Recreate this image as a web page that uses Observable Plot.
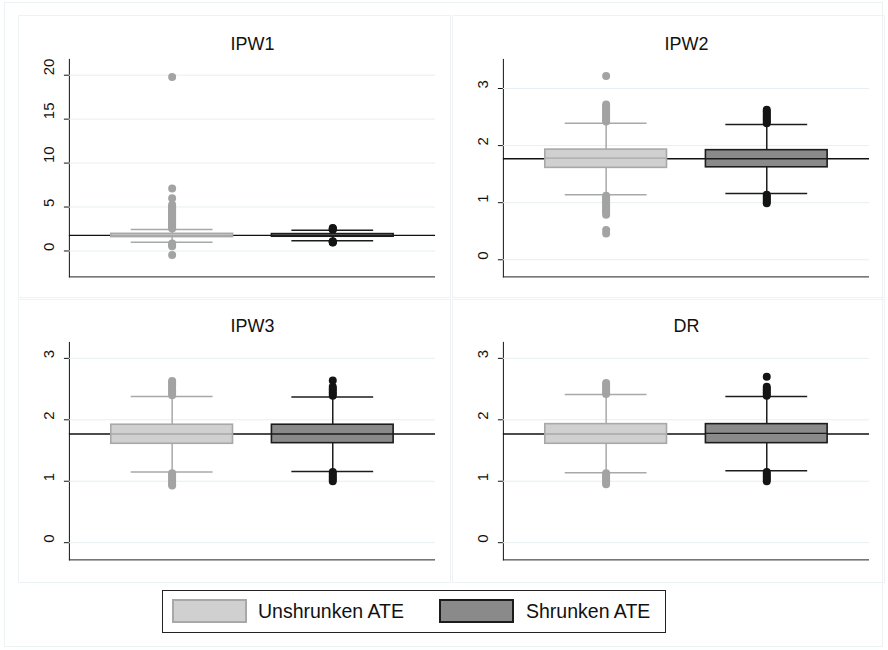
<!DOCTYPE html>
<html>
<head>
<meta charset="utf-8">
<script src="https://cdn.jsdelivr.net/npm/d3@7"></script>
<script src="https://cdn.jsdelivr.net/npm/@observablehq/plot@0.6"></script>
<style>
  html, body { margin: 0; padding: 0; background: #fff; }
  #root { position: relative; width: 888px; height: 650px; font-family: "Liberation Sans", Arial, sans-serif; color: #111; }
  .outer { position: absolute; left: 4px; top: 2px; width: 879px; height: 645px; border: 1px solid #edf3f4; box-sizing: border-box; }
  .panel { position: absolute; border: 1px solid #edf3f4; box-sizing: border-box; }
  .panel svg { position: absolute; left: 0; top: 0; }
  .legend { position: absolute; left: 162px; top: 590px; width: 504px; height: 43px; border: 1px solid #222; box-sizing: border-box; background: #fff; }
  .sw { position: absolute; top: 8px; width: 75px; height: 24px; box-sizing: border-box; }
  .lt { position: absolute; top: 7px; font-size: 19.5px; line-height: 26px; white-space: nowrap; }
</style>
</head>
<body>
<div id="root"></div>
<script>
// ---- data ----
const panels = ["IPW1", "IPW2", "IPW3", "DR"];
const groups = ["Unshrunken ATE", "Shrunken ATE"];
const trueATE = 1.77;

// per panel: [unshrunken, shrunken]
const q1  = [[1.58, 1.62], [1.61, 1.62], [1.61, 1.62], [1.61, 1.62]];
const med = [[1.77, 1.77], [1.78, 1.77], [1.77, 1.77], [1.77, 1.78]];
const q3  = [[1.95, 1.92], [1.93, 1.92], [1.92, 1.92], [1.93, 1.93]];
const whiskerLo = [[1.00, 1.16], [1.14, 1.16], [1.15, 1.16], [1.14, 1.17]];
const whiskerHi = [[2.45, 2.37], [2.39, 2.37], [2.38, 2.37], [2.41, 2.38]];

const outIPW1U = [2.55, 2.7, 2.85, 3.0, 3.15, 3.3, 3.45, 3.6, 3.75, 3.9, 4.05, 4.2, 4.35, 4.5, 4.65, 4.8, 4.95, 5.1, 5.25, 6.0, 7.1, 19.8, 0.85, 0.7, 0.55, -0.45];
const outIPW1S = [2.42, 2.48, 2.55, 2.62, 1.1, 1.05, 1.0, 0.95];
const outIPW2U = [2.42, 2.45, 2.48, 2.51, 2.54, 2.57, 2.60, 2.63, 2.66, 2.69, 2.72, 3.22, 1.12, 1.09, 1.06, 1.03, 1.00, 0.97, 0.94, 0.91, 0.88, 0.85, 0.82, 0.79, 0.52, 0.46];
const outIPW2S = [2.39, 2.42, 2.45, 2.48, 2.51, 2.54, 2.57, 2.60, 2.63, 1.14, 1.11, 1.08, 1.05, 1.02, 0.99];
const outIPW3U = [2.40, 2.43, 2.46, 2.49, 2.52, 2.55, 2.58, 2.61, 2.63, 1.13, 1.10, 1.07, 1.04, 1.01, 0.98, 0.95, 0.93];
const outIPW3S = [2.39, 2.42, 2.45, 2.48, 2.51, 2.54, 2.64, 1.15, 1.12, 1.09, 1.06, 1.03, 1.00];
const outDRU   = [2.42, 2.45, 2.48, 2.51, 2.54, 2.57, 2.60, 1.13, 1.10, 1.07, 1.04, 1.01, 0.98, 0.95];
const outDRS   = [2.39, 2.42, 2.45, 2.48, 2.51, 2.54, 2.70, 1.15, 1.12, 1.09, 1.06, 1.03, 1.00];
const outliers = [[outIPW1U, outIPW1S], [outIPW2U, outIPW2S], [outIPW3U, outIPW3S], [outDRU, outDRS]];

const yTicks = [[0, 5, 10, 15, 20], [0, 1, 2, 3], [0, 1, 2, 3], [0, 1, 2, 3]];
const yDomains = [[-2.95, 21.8], [-0.30, 3.51], [-0.28, 3.26], [-0.28, 3.26]];

// ---- styles ----
const fillColors = ["#d0d0d0", "#8a8a8a"];
const lineColors = ["#a8a8a8", "#1c1c1c"];
const dotColors  = ["#a3a3a3", "#141414"];
const gridColor = "#e6eff1";

const layout = [
  {left: 18, top: 15, h: 283, mt: 43, mb: 22, dy: -15},
  {left: 452, top: 15, h: 283, mt: 43, mb: 22, dy: -15},
  {left: 18, top: 299, h: 284, mt: 42, mb: 24, dy: -16},
  {left: 452, top: 299, h: 284, mt: 42, mb: 24, dy: -16}
];

const root = document.getElementById("root");
const outer = document.createElement("div"); outer.className = "outer"; root.appendChild(outer);

panels.forEach((name, i) => {
  const L = layout[i];
  const marks = [
    Plot.ruleY(yTicks[i], {stroke: gridColor, strokeWidth: 1}),
    Plot.ruleY([yDomains[i][0]], {stroke: "#222", strokeWidth: 1}),
    Plot.ruleY([trueATE], {stroke: "#111", strokeWidth: 1.4}),
    Plot.text(yTicks[i], {y: d => d, text: d => String(d), frameAnchor: "left", dx: -20, rotate: -90, fontSize: 15, fill: "#111"}),
    Plot.text([name], {frameAnchor: "top", dy: L.dy, fontSize: 18, fill: "#111", lineAnchor: "middle"})
  ];
  groups.forEach((g, j) => {
    const row = [{group: g, q1: q1[i][j], med: med[i][j], q3: q3[i][j], lo: whiskerLo[i][j], hi: whiskerHi[i][j]}];
    const outs = outliers[i][j].map(v => ({group: g, value: v}));
    marks.push(
      Plot.ruleX(row, {x: "group", y1: "lo", y2: "q1", stroke: lineColors[j], strokeWidth: 1.5}),
      Plot.ruleX(row, {x: "group", y1: "q3", y2: "hi", stroke: lineColors[j], strokeWidth: 1.5}),
      Plot.tickY(row, {x: "group", y: "lo", stroke: lineColors[j], strokeWidth: 1.5, insetLeft: 20, insetRight: 20}),
      Plot.tickY(row, {x: "group", y: "hi", stroke: lineColors[j], strokeWidth: 1.5, insetLeft: 20, insetRight: 20}),
      Plot.dot(outs, {x: "group", y: "value", r: 4, fill: dotColors[j], stroke: "none"}),
      Plot.barY(row, {x: "group", y1: "q1", y2: "q3", fill: fillColors[j], stroke: lineColors[j], strokeWidth: 1.6}),
      Plot.tickY(row, {x: "group", y: "med", stroke: lineColors[j], strokeWidth: 1.4})
    );
  });
  const svg = Plot.plot({
    width: 432,
    height: L.h,
    marginLeft: 50,
    marginRight: 15,
    marginTop: L.mt,
    marginBottom: L.mb,
    style: {fontFamily: "Liberation Sans, Arial, sans-serif", fontSize: "14px", color: "#111", background: "transparent", overflow: "visible"},
    x: {domain: groups, paddingInner: 0.245, paddingOuter: 0.26, axis: null},
    y: {domain: yDomains[i], ticks: yTicks[i], tickSize: 5, line: true, label: null, tickFormat: () => ""},
    marks
  });
  const div = document.createElement("div");
  div.className = "panel";
  div.style.left = L.left + "px";
  div.style.top = L.top + "px";
  div.style.width = "433px";
  div.style.height = L.h + "px";
  div.appendChild(svg);
  root.appendChild(div);
});

// legend
const legend = document.createElement("div");
legend.className = "legend";
legend.innerHTML = `
  <div class="sw" style="left:9px;background:${fillColors[0]};border:2px solid ${lineColors[0]}"></div>
  <div class="lt" style="left:95px">${groups[0]}</div>
  <div class="sw" style="left:276px;background:${fillColors[1]};border:2px solid ${lineColors[1]}"></div>
  <div class="lt" style="left:363px">${groups[1]}</div>`;
root.appendChild(legend);
</script>
</body>
</html>
